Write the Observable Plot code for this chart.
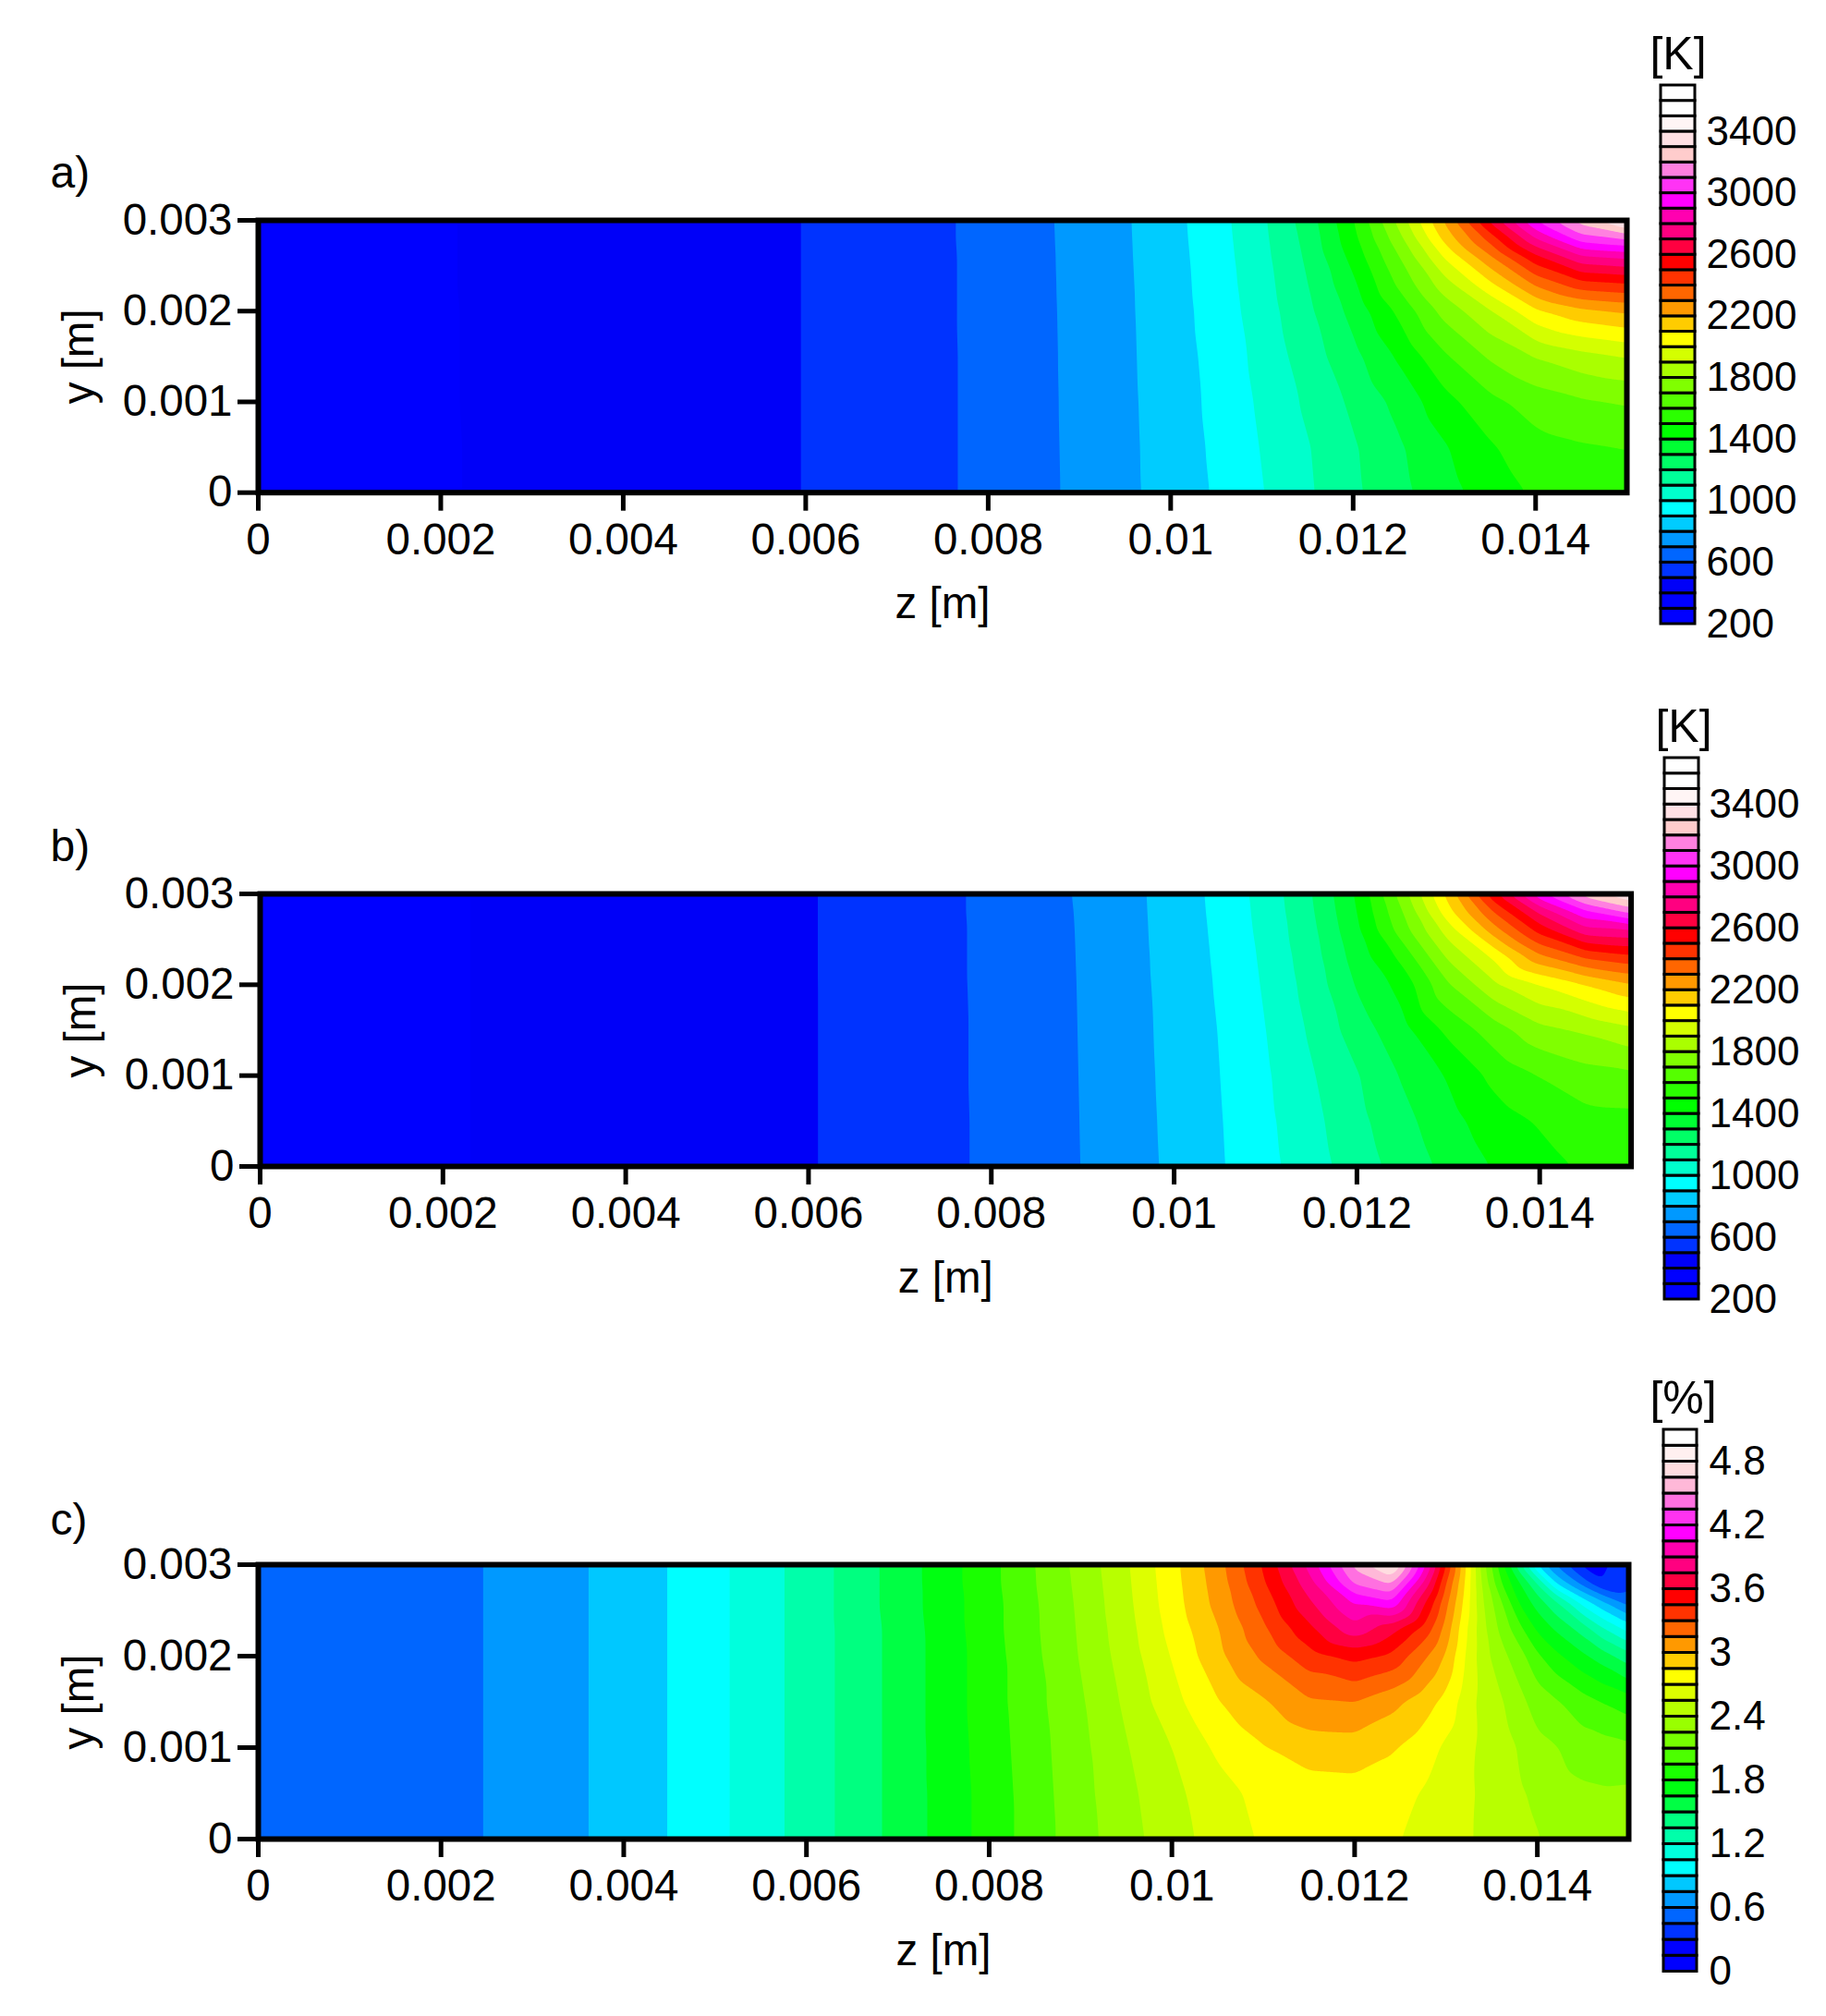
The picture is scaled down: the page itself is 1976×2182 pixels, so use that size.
<!DOCTYPE html>
<html><head><meta charset="utf-8">
<style>html,body{margin:0;padding:0;background:#fff;color:#000}#c{position:relative;width:1976px;height:2182px;overflow:hidden}</style>
<script src="https://cdn.jsdelivr.net/npm/d3@7"></script>
<script src="https://cdn.jsdelivr.net/npm/@observablehq/plot@0.6"></script>
</head><body><div id="c"></div>
<script>
const yRows=[0,.0005,.001,.0015,.002,.0023,.0026,.0028,.003];
const zColsT=[0,.002,.004,.006,.007,.008,.009,.0095,.01,.0105,.011,.0115,.012,.0125,.013,.0135,.014,.0145,.015];
const tempA=[
[340,340,340,340,340,340,340,340,340],
[392,392,393,393,393,394,394,394,394],
[460,460,460,460,460,460,460,460,460],
[501,501,501,501,501,501,501,501,501],
[550,550,550,550,550,550,550,551,551],
[625,625,625,625,626,626,626,627,627],
[720,721,722,723,724,725,726,727,728],
[777,778,780,782,784,785,787,788,789],
[842,845,848,852,856,859,862,865,867],
[910,917,925,932,942,948,953,957,961],
[995,1005,1017,1032,1050,1060,1070,1076,1082],
[1085,1093,1118,1150,1178,1197,1217,1231,1248],
[1180,1188,1220,1270,1333,1379,1435,1470,1495],
[1270,1285,1330,1415,1520,1620,1695,1765,1835],
[1363,1390,1465,1585,1735,1856,2010,2130,2215],
[1445,1487,1572,1715,1889,2080,2285,2440,2630],
[1515,1565,1645,1805,2080,2320,2575,2800,3010],
[1535,1590,1686,1865,2174,2465,2785,3055,3255],
[1560,1603,1710,1905,2215,2495,2825,3117,3450]];
const tempB=[
[330,330,330,330,330,330,330,330,330],
[393,393,393,393,393,393,393,393,393],
[440,440,440,440,440,440,440,440,440],
[494,494,494,494,494,494,494,494,494],
[552,552,552,552,552,553,553,553,553],
[615,615,616,616,617,617,617,618,618],
[702,703,704,705,706,707,708,709,711],
[759,761,763,765,767,768,770,771,772],
[820,823,826,829,833,836,839,841,843],
[890,894,899,904,912,917,922,926,929],
[970,978,986,998,1012,1020,1030,1035,1040],
[1056,1070,1090,1115,1140,1155,1172,1185,1195],
[1150,1172,1192,1250,1310,1345,1380,1398,1415],
[1240,1270,1310,1367,1435,1530,1655,1697,1755],
[1328,1365,1410,1525,1690,1816,1950,2065,2140],
[1407,1455,1526,1650,1880,2014,2255,2400,2580],
[1464,1510,1603,1770,2000,2270,2540,2718,2980],
[1515,1565,1660,1815,2100,2410,2765,2975,3260],
[1535,1570,1680,1875,2190,2470,2790,3130,3410]];
const zColsC=[0,.002,.004,.005,.006,.007,.008,.009,.0095,.01,.0105,.011,.0115,.012,.0124,.0128,.013,.0132,.0134,.0136,.0138,.014,.0142,.0145,.0147,.015];
const pctC=[
[.5,.5,.5,.5,.5,.5,.5,.5,.5],
[.54,.54,.54,.54,.54,.54,.54,.54,.54],
[.8,.8,.8,.8,.8,.8,.8,.8,.8],
[1.01,1.01,1.01,1.01,1.01,1.01,1.01,1.01,1.01],
[1.26,1.26,1.26,1.26,1.26,1.26,1.26,1.26,1.26],
[1.55,1.55,1.55,1.55,1.55,1.55,1.56,1.56,1.56],
[1.86,1.86,1.87,1.88,1.88,1.89,1.89,1.9,1.9],
[2.19,2.2,2.21,2.23,2.26,2.27,2.28,2.29,2.3],
[2.34,2.36,2.39,2.43,2.47,2.49,2.51,2.52,2.53],
[2.49,2.51,2.55,2.65,2.71,2.75,2.78,2.79,2.8],
[2.61,2.64,2.73,2.84,2.96,2.99,3.05,3.07,3.09],
[2.72,2.75,2.84,2.98,3.18,3.27,3.36,3.43,3.47],
[2.73,2.78,2.92,3.13,3.39,3.56,3.73,3.84,3.95],
[2.74,2.79,2.93,3.15,3.5,3.85,4.08,4.38,4.55],
[2.72,2.76,2.87,3.05,3.42,3.66,4.2,4.53,4.88],
[2.65,2.68,2.76,2.9,3.15,3.36,3.57,3.8,4.02],
[2.61,2.63,2.67,2.8,2.98,3.09,3.2,3.3,3.45],
[2.57,2.58,2.6,2.64,2.71,2.75,2.82,2.86,2.9],
[2.53,2.53,2.52,2.5,2.47,2.45,2.41,2.37,2.32],
[2.49,2.48,2.47,2.42,2.3,2.21,2.12,1.96,1.86],
[2.45,2.42,2.39,2.3,2.17,2,1.78,1.67,1.39],
[2.41,2.37,2.29,2.18,1.98,1.77,1.57,1.35,.87],
[2.36,2.32,2.26,2.12,1.84,1.63,1.37,.89,.58],
[2.33,2.28,2.17,2.01,1.68,1.43,.97,.53,.25],
[2.31,2.27,2.16,1.95,1.58,1.23,.77,.3,.27],
[2.3,2.28,2.13,1.87,1.41,.99,.51,.42,.36]];
const levelsK=[200,300,400,500,600,700,800,900,1000,1100,1200,1300,1400,1500,1600,1700,1800,1900,2000,2100,2200,2300,2400,2500,2600,2700,2800,2900,3000,3100,3200,3300,3400,3500,3600,3700];
const colorsK=["#0000ff","#0000ff","#0000f8","#0033ff","#0066ff","#0099ff","#00ccff","#00ffff","#00ffcc","#00ff99","#00ff66","#00ff33","#00ff00","#2bff00","#55ff00","#80ff00","#aaff00","#d4ff00","#ffff00","#ffcc00","#ff9900","#ff6600","#ff3300","#ff0000","#ff0040","#ff0080","#ff00b0","#ff00ff","#ff33f5","#ff80e0","#ffcccc","#ffe0e4","#fff5f5","#ffffff","#ffffff"];
const ticksK=[200,600,1000,1400,1800,2200,2600,3000,3400];
const levelsP=[0,.15,.3,.45,.6,.75,.9,1.05,1.2,1.35,1.5,1.65,1.8,1.95,2.1,2.25,2.4,2.55,2.7,2.85,3,3.15,3.3,3.45,3.6,3.75,3.9,4.05,4.2,4.35,4.5,4.65,4.8,4.95,5.1];
const colorsP=["#0000ff","#0000ff","#0033ff","#0066ff","#0099ff","#00c8ff","#00ffff","#00ffdd","#00ffaa","#00ff80","#00ff44","#00ff11","#1aff00","#4cff00","#77ff00","#99ff00","#b8ff00","#ddff00","#ffff00","#ffcc00","#ff9900","#ff6600","#ff3300","#ff0000","#ff0040","#ff0080","#ff00b0","#ff00ff","#ff33f0","#ff70e0","#ffb8d8","#ffdde0","#fff0f0","#ffffff"];
const ticksP=[0,.6,1.2,1.8,2.4,3,3.6,4.2,4.8];
const zTicks=[0,.002,.004,.006,.008,.01,.012,.014];
const yTicks=[0,.001,.002,.003];
const FONT="Liberation Sans, Arial, sans-serif";
const root=document.getElementById("c");
function place(svg,top){svg.style.position="absolute";svg.style.left="0";svg.style.top=top+"px";svg.style.background="transparent";root.appendChild(svg);}
function panel(o){
  const pts=[];
  o.zs.forEach((z,i)=>yRows.forEach((y,j)=>pts.push({z,y,v:o.vals[i][j]})));
  const top=o.top-o.svgTop,h=o.svgH;
  const thresholds=o.levels.slice(0,-1);
  place(Plot.plot({
    width:1976,height:h,marginLeft:o.left,marginRight:1976-o.right,marginTop:top,marginBottom:h-(o.bottom-o.svgTop),
    style:{fontFamily:FONT,background:"transparent"},
    x:{domain:[0,.015]},y:{domain:[0,.003]},
    color:{type:"threshold",domain:thresholds,range:[o.colors[0],...o.colors]},
    marks:[
      Plot.contour(pts,{x:"z",y:"y",fill:"v",interpolate:"barycentric",pixelSize:1,blur:4,thresholds,x1:0,x2:.015,y1:0,y2:.003}),
      Plot.frame({stroke:"#000",strokeWidth:6}),
      Plot.axisX({ticks:zTicks,tickFormat:d=>String(d),tickSize:20,tickPadding:13,strokeWidth:5,fontSize:47.5,label:"z [m]",labelArrow:"none",labelAnchor:"center",labelOffset:136}),
      Plot.axisY({ticks:yTicks,tickFormat:d=>String(d),tickSize:22,tickPadding:6,strokeWidth:5,fontSize:47.5,label:"y [m]",labelArrow:"none",labelAnchor:"center",labelOffset:212}),
      Plot.text([o.letter],{frameAnchor:"top-left",dx:o.letterDx,dy:o.letterDy,fontSize:48,textAnchor:"start",fill:"#000"})
    ]}),o.svgTop);
  const cells=o.colors.map((c,i)=>({lo:o.levels[i],hi:o.levels[i+1],c}));
  const lh=o.lgSvgH;
  place(Plot.plot({
    width:1976,height:lh,marginLeft:o.lgL,marginRight:1976-o.lgR,marginTop:o.lgTop-o.lgSvgTop,marginBottom:lh-(o.lgBot-o.lgSvgTop),
    style:{fontFamily:FONT,background:"transparent"},
    x:{domain:[0,1],axis:null},y:{domain:[o.levels[0],o.levels[o.levels.length-1]]},
    marks:[
      Plot.rect(cells,{x1:()=>0,x2:()=>1,y1:"lo",y2:"hi",fill:"c",stroke:"#000",strokeWidth:3}),
      Plot.axisY({anchor:"right",ticks:o.ticks,tickFormat:d=>String(d),tickSize:0,tickPadding:o.lgPad,fontSize:44,label:null}),
      Plot.text([o.unit],{frameAnchor:"top",dx:o.unitDx,dy:o.unitDy,fontSize:50,fill:"#000"})
    ]}),o.lgSvgTop);
}
panel({letter:"a)",zs:zColsT,vals:tempA,levels:levelsK,colors:colorsK,ticks:ticksK,unit:"[K]",
  svgTop:0,svgH:720,left:279,right:1760,top:238,bottom:532.7,letterDx:-225,letterDy:-70,
  lgSvgTop:0,lgSvgH:720,lgL:1797,lgR:1834,lgTop:92,lgBot:675,lgPad:12,unitDx:0,unitDy:-53});
panel({letter:"b)",zs:zColsT,vals:tempB,levels:levelsK,colors:colorsK,ticks:ticksK,unit:"[K]",
  svgTop:740,svgH:720,left:281,right:1764.6,top:967,bottom:1262,letterDx:-227,letterDy:-70,
  lgSvgTop:740,lgSvgH:720,lgL:1801,lgR:1838,lgTop:820,lgBot:1406,lgPad:11,unitDx:2,unitDy:-53});
panel({letter:"c)",zs:zColsC,vals:pctC,levels:levelsP,colors:colorsP,ticks:ticksP,unit:"[%]",
  svgTop:1470,svgH:712,left:279,right:1762,top:1693,bottom:1990,letterDx:-225,letterDy:-67,
  lgSvgTop:1470,lgSvgH:712,lgL:1800,lgR:1836,lgTop:1547,lgBot:2133.5,lgPad:13,unitDx:3,unitDy:-53});
</script></body></html>
